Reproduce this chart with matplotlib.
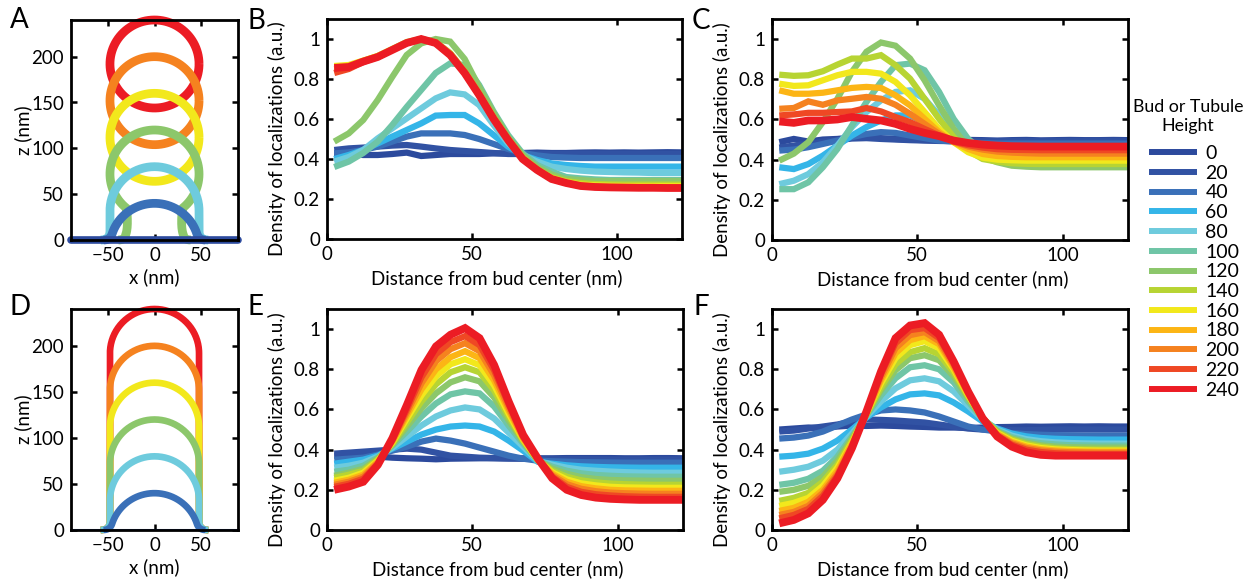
import numpy as np
import matplotlib
matplotlib.use("Agg")
import matplotlib.pyplot as plt
from matplotlib.lines import Line2D

plt.rcParams['font.family'] = ['Lato', 'DejaVu Sans']
plt.rcParams['font.size'] = 13.5
plt.rcParams['axes.unicode_minus'] = True

# ---------------- data ----------------
heights = [0, 20, 40, 60, 80, 100, 120, 140, 160, 180, 200, 220, 240]
colors = ['#2c4a9d', '#3152a3', '#3a70b8', '#34b5e8', '#6ecbdd', '#6fc5a6',
          '#8cc76b', '#b7d433', '#f2e81c', '#fcb515', '#f5821f', '#ef4824', '#ec1c24']
distance_nm = [2.5, 7.5, 12.5, 17.5, 22.5, 27.5, 32.5, 37.5, 42.5, 47.5, 52.5, 57.5,
               62.5, 67.5, 72.5, 77.5, 82.5, 87.5, 92.5, 97.5, 102.5, 107.5, 112.5,
               117.5, 122.5]

# Panel B: buds, localization density (one list per height)
B_density = [
    [.43, .425, .42, .42, .425, .432, .415, .42, .425, .425, .425, .428, .428, .43, .432, .43, .43, .432, .433, .432, .433, .432, .433, .434, .433],
    [.445, .453, .457, .462, .467, .47, .462, .453, .445, .44, .435, .43, .425, .425, .425, .425, .425, .425, .425, .425, .425, .425, .425, .425, .425],
    [.428, .433, .445, .462, .487, .512, .528, .528, .528, .52, .50, .475, .45, .43, .418, .41, .407, .405, .405, .405, .405, .405, .405, .405, .405],
    [.40, .42, .445, .478, .512, .545, .578, .617, .62, .62, .578, .52, .462, .42, .395, .378, .37, .365, .362, .362, .362, .362, .362, .362, .362],
    [.387, .41, .445, .503, .553, .603, .653, .703, .733, .723, .67, .57, .478, .42, .387, .362, .35, .342, .337, .335, .333, .332, .33, .33, .33],
    [.36, .387, .43, .487, .57, .66, .745, .83, .878, .87, .77, .637, .52, .428, .37, .337, .31, .303, .298, .295, .295, .295, .295, .295, .295],
    [.487, .528, .595, .695, .81, .92, .978, 1.0, .987, .90, .76, .63, .51, .42, .36, .323, .30, .295, .29, .29, .29, .29, .29, .29, .29],
    [.86, .865, .89, .915, .95, .985, 1.0, .985, .93, .84, .73, .61, .50, .41, .35, .31, .29, .28, .275, .273, .272, .272, .272, .272, .272],
    [.865, .87, .892, .915, .948, .982, 1.0, .982, .925, .835, .725, .605, .50, .405, .348, .305, .285, .272, .268, .266, .265, .265, .265, .265, .265],
    [.86, .865, .89, .912, .946, .98, 1.0, .98, .922, .832, .722, .602, .497, .402, .346, .302, .282, .268, .263, .261, .26, .26, .26, .26, .26],
    [.85, .86, .888, .91, .945, .98, 1.0, .98, .92, .83, .72, .60, .495, .40, .345, .30, .28, .266, .261, .259, .258, .257, .257, .257, .257],
    [.83, .85, .885, .91, .945, .98, 1.0, .98, .92, .83, .72, .60, .495, .40, .345, .30, .28, .265, .26, .258, .257, .256, .256, .256, .256],
    [.855, .86, .887, .91, .945, .98, 1.0, .98, .92, .83, .72, .60, .495, .40, .345, .30, .28, .265, .26, .258, .257, .256, .256, .255, .255],
]

# Panel C: buds (alternative model)
C_density = [
    [.487, .503, .49, .50, .503, .51, .517, .507, .503, .50, .497, .495, .497, .498, .497, .495, .497, .498, .496, .497, .498, .497, .497, .498, .497],
    [.46, .47, .48, .49, .497, .505, .507, .503, .50, .497, .495, .493, .492, .492, .492, .492, .492, .492, .492, .492, .492, .492, .492, .492, .492],
    [.445, .45, .462, .478, .495, .512, .528, .537, .533, .52, .507, .495, .49, .485, .482, .48, .48, .48, .48, .48, .48, .48, .48, .48, .48],
    [.362, .353, .378, .42, .47, .52, .562, .595, .62, .62, .587, .537, .495, .47, .46, .455, .453, .453, .453, .453, .453, .453, .453, .453, .453],
    [.278, .295, .328, .387, .47, .562, .637, .695, .737, .745, .703, .62, .528, .462, .42, .405, .40, .398, .397, .397, .397, .397, .397, .397, .397],
    [.253, .253, .287, .362, .453, .57, .687, .787, .87, .878, .845, .737, .603, .503, .445, .412, .39, .382, .38, .378, .378, .378, .378, .378, .378],
    [.395, .43, .487, .587, .703, .837, .937, .983, .967, .903, .795, .67, .553, .462, .412, .387, .37, .365, .362, .362, .362, .362, .362, .362, .362],
    [.823, .817, .82, .84, .873, .903, .903, .92, .87, .803, .703, .603, .512, .445, .403, .39, .382, .379, .378, .378, .378, .378, .378, .378, .378],
    [.778, .767, .77, .795, .82, .837, .837, .828, .787, .72, .637, .553, .487, .437, .41, .40, .397, .395, .395, .395, .395, .395, .395, .395, .395],
    [.745, .728, .728, .733, .745, .757, .762, .757, .72, .67, .603, .537, .487, .453, .428, .418, .414, .412, .412, .412, .412, .412, .412, .412, .412],
    [.653, .657, .69, .673, .695, .703, .712, .703, .673, .628, .578, .528, .49, .465, .45, .44, .435, .432, .43, .43, .43, .43, .43, .43, .43],
    [.62, .625, .633, .633, .637, .64, .657, .64, .612, .587, .553, .52, .49, .472, .46, .452, .449, .448, .447, .447, .447, .447, .447, .447, .447],
    [.59, .583, .595, .595, .60, .612, .603, .595, .578, .553, .533, .517, .495, .483, .475, .47, .467, .466, .465, .465, .465, .465, .465, .465, .465],
]

# Panel E: tubules
E_density = [
    [.37, .372, .37, .365, .36, .357, .355, .352, .355, .356, .357, .357, .356, .356, .357, .357, .358, .358, .358, .358, .357, .357, .358, .358, .357],
    [.38, .385, .39, .395, .40, .405, .40, .385, .37, .365, .36, .358, .356, .355, .353, .352, .352, .352, .351, .35, .35, .35, .35, .35, .35],
    [.35, .355, .36, .375, .395, .415, .44, .455, .445, .43, .41, .39, .37, .355, .345, .342, .34, .338, .337, .336, .335, .335, .335, .335, .335],
    [.33, .34, .35, .37, .405, .44, .475, .50, .515, .52, .515, .49, .445, .395, .34, .33, .322, .317, .314, .312, .311, .31, .31, .31, .31],
    [.31, .32, .335, .365, .41, .465, .52, .565, .595, .61, .60, .555, .485, .415, .343, .325, .31, .30, .295, .291, .288, .286, .285, .285, .285],
    [.29, .30, .32, .36, .42, .49, .565, .63, .675, .69, .68, .615, .52, .43, .346, .315, .295, .282, .274, .27, .267, .266, .265, .265, .265],
    [.27, .285, .305, .355, .425, .515, .605, .68, .735, .76, .74, .66, .545, .44, .348, .305, .28, .263, .254, .249, .247, .246, .245, .245, .245],
    [.26, .275, .295, .35, .43, .535, .64, .725, .785, .81, .785, .695, .565, .445, .349, .295, .265, .247, .237, .231, .228, .226, .225, .225, .225],
    [.245, .26, .285, .345, .435, .555, .67, .765, .825, .85, .82, .72, .58, .45, .35, .287, .252, .232, .222, .215, .212, .211, .21, .21, .21],
    [.235, .25, .275, .34, .44, .57, .70, .80, .86, .89, .855, .745, .595, .455, .352, .28, .24, .218, .207, .20, .197, .196, .195, .195, .195],
    [.225, .24, .265, .335, .445, .585, .73, .84, .90, .93, .89, .77, .61, .46, .354, .272, .228, .205, .193, .186, .183, .181, .18, .18, .18],
    [.215, .23, .255, .33, .45, .60, .76, .875, .935, .965, .92, .795, .625, .465, .355, .265, .215, .19, .178, .172, .168, .166, .165, .165, .165],
    [.20, .216, .24, .324, .457, .623, .797, .914, .972, 1.005, .955, .822, .64, .473, .357, .257, .20, .174, .161, .155, .152, .15, .15, .15, .15],
]

# Panel F: tubules (alternative model)
F_density = [
    [.50, .505, .51, .508, .515, .52, .518, .52, .518, .515, .513, .51, .51, .508, .51, .512, .513, .515, .514, .515, .516, .515, .516, .515, .515],
    [.49, .495, .505, .515, .525, .54, .55, .548, .545, .54, .535, .525, .515, .505, .50, .498, .497, .497, .498, .50, .50, .50, .50, .50, .50],
    [.455, .46, .47, .49, .52, .55, .575, .595, .60, .595, .585, .565, .54, .515, .50, .49, .482, .477, .474, .472, .471, .47, .47, .47, .47],
    [.365, .37, .38, .405, .445, .50, .56, .61, .65, .675, .68, .67, .635, .59, .54, .505, .48, .466, .458, .454, .452, .451, .45, .45, .45],
    [.29, .30, .315, .345, .40, .48, .565, .64, .705, .745, .755, .74, .69, .62, .55, .50, .47, .452, .442, .436, .433, .431, .43, .43, .43],
    [.225, .235, .255, .295, .365, .465, .57, .67, .755, .81, .82, .80, .735, .64, .553, .495, .462, .443, .432, .426, .422, .421, .42, .42, .42],
    [.19, .20, .22, .265, .345, .455, .575, .695, .795, .855, .87, .845, .765, .655, .555, .49, .455, .435, .422, .415, .412, .411, .41, .41, .41],
    [.145, .16, .185, .24, .325, .445, .575, .71, .825, .885, .905, .875, .785, .665, .555, .487, .45, .428, .415, .407, .403, .401, .40, .40, .40],
    [.12, .135, .16, .22, .31, .435, .58, .73, .855, .92, .94, .905, .80, .67, .555, .482, .444, .421, .408, .401, .398, .396, .395, .395, .395],
    [.095, .11, .14, .20, .295, .43, .58, .745, .88, .945, .965, .925, .81, .675, .555, .478, .438, .415, .402, .396, .393, .391, .39, .39, .39],
    [.075, .09, .12, .185, .28, .42, .585, .76, .905, .97, .985, .94, .82, .68, .556, .475, .432, .408, .396, .39, .387, .386, .385, .385, .385],
    [.058, .075, .105, .17, .27, .415, .59, .775, .93, .995, 1.005, .955, .83, .685, .556, .47, .425, .40, .388, .382, .379, .378, .378, .378, .378],
    [.033, .05, .083, .15, .257, .407, .59, .789, .955, 1.018, 1.03, .972, .839, .689, .556, .465, .415, .387, .374, .37, .37, .37, .37, .37, .37],
]

shape_heights = [240, 200, 160, 120, 80, 40]   # drawn in panels A and D
density_ticks = [0, 0.2, 0.4, 0.6, 0.8, 1]
density_ticklabels = ['0', '0.2', '0.4', '0.6', '0.8', '1']
dist_ticks = [0, 50, 100]
shape_xticks = [-50, 0, 50]
shape_zticks = [0, 50, 100, 150, 200]

# ---------------- geometry helpers ----------------
R = 48.0     # bud / tubule radius (nm)
FIL = 10.0   # fillet radius at the membrane


def quad_bezier(p0, p1, p2, n=20):
    t = np.linspace(0, 1, n)[:, None]
    p0, p1, p2 = map(np.asarray, (p0, p1, p2))
    return (1 - t) ** 2 * p0 + 2 * (1 - t) * t * p1 + t ** 2 * p2


def mirror_join(right_half):
    left = right_half[::-1].copy()
    left[:, 0] *= -1
    return np.vstack([left, right_half[1:]])


def cap_profile(H):
    c = H - R
    zmin = 6.0
    ang_end = np.arcsin((zmin - c) / R)
    th = np.linspace(np.pi / 2, ang_end, 80)
    arc = np.column_stack([R * np.cos(th), c + R * np.sin(th)])
    xe = arc[-1, 0]
    foot = quad_bezier((xe, zmin), (xe + 2.5, 0), (xe + 9, 0))
    return mirror_join(np.vstack([arc, foot[1:]]))


def tubule_profile(H):
    c = H - R
    if c <= 0:
        return cap_profile(H)
    th = np.linspace(np.pi / 2, 0, 60)
    arc = np.column_stack([R * np.cos(th), c + R * np.sin(th)])
    side = np.array([[R, c], [R, FIL]])
    foot = quad_bezier((R, FIL), (R, 0), (R + FIL, 0))
    return mirror_join(np.vstack([arc, side[1:], foot[1:]]))


def bud_profile(H):
    c = H - R
    if c <= 0:
        return cap_profile(H)
    if c - R > 30:
        th = np.linspace(0, 2 * np.pi, 200)
        return np.column_stack([R * np.cos(th), c + R * np.sin(th)])
    if c - R > 0:
        rn = 30.0
        ze = c - np.sqrt(R ** 2 - rn ** 2)
        th_end = -np.pi / 2 + np.arcsin(rn / R)
        th = np.linspace(np.pi / 2, th_end, 120)
        arc = np.column_stack([R * np.cos(th), c + R * np.sin(th)])
        side = quad_bezier((rn, ze), (rn - 2, ze * 0.4), (rn + 1, FIL * 0.6))
        foot = quad_bezier((rn + 1, FIL * 0.6), (rn + 2, 0), (rn + 9, 0))
        return mirror_join(np.vstack([arc, side[1:], foot[1:]]))
    return tubule_profile(H)


# ---------------- figure ----------------
W, Hpx = 1255, 580
fig = plt.figure(figsize=(W / 100, Hpx / 100), dpi=100)


def px_axes(left, top, right, bottom):
    return fig.add_axes([left / W, 1 - bottom / Hpx, (right - left) / W, (bottom - top) / Hpx])


axA = px_axes(71, 20, 238, 240)
axB = px_axes(327, 19, 682, 239)
axC = px_axes(772, 19, 1128, 240)
axD = px_axes(71, 309, 238, 530)
axE = px_axes(327, 309, 683, 530)
axF = px_axes(772, 309, 1128, 530)

color_of = dict(zip(heights, colors))


def style_axes(ax):
    for s in ax.spines.values():
        s.set_linewidth(2.0)
        s.set_zorder(5)
    ax.tick_params(direction='in', top=True, right=True, length=4, width=1.8,
                   labelsize=13.5, pad=5)


# shapes panels
for ax, prof, baseline_lw, shape_lw in [(axA, bud_profile, 5.5, 6.3), (axD, tubule_profile, 2.2, 4.8)]:
    for h in shape_heights:
        p = prof(h)
        ax.plot(p[:, 0], p[:, 1], color=color_of[h], lw=shape_lw,
                solid_capstyle='butt', solid_joinstyle='round', clip_on=False, zorder=3)
    ax.plot([-90, 90], [0, 0], color=color_of[0], lw=baseline_lw,
            solid_capstyle='round', clip_on=(ax is axD), zorder=4)
    ax.set_xlim(-90, 90)
    ax.set_ylim(0, 240)
    ax.set_xticks(shape_xticks)
    ax.set_yticks(shape_zticks)
    ax.set_xlabel('x (nm)')
    ax.set_ylabel('z (nm)')
    ax.xaxis.set_label_coords(0.5, -37 / 221)
    ax.xaxis.label.set_va('center')
    ax.yaxis.set_label_coords(-0.285, 0.5)
    ax.yaxis.label.set_va('center')
    style_axes(ax)

# density panels
for ax, data in [(axB, B_density), (axC, C_density), (axE, E_density), (axF, F_density)]:
    for h, col, vals in zip(heights, colors, data):
        ax.plot(distance_nm, vals, color=col, lw=5.6 if h == 240 else 4.5,
                solid_joinstyle='miter', solid_capstyle='butt', label=str(h))
    ax.set_xlim(0, 122.5)
    ax.set_ylim(0, 1.1)
    ax.set_xticks(dist_ticks)
    ax.set_yticks(density_ticks)
    ax.set_yticklabels(density_ticklabels)
    ax.set_xlabel('Distance from bud center (nm)')
    ax.set_ylabel('Density of localizations (a.u.)')
    ax.xaxis.set_label_coords(0.479, -39 / 220)
    ax.xaxis.label.set_va('center')
    ax.yaxis.set_label_coords(-0.14, 0.455)
    ax.yaxis.label.set_va('center')
    style_axes(ax)

# legend (title drawn as its own text for exact spacing)
fig.text(1188 / W, 1 - 116.5 / Hpx, 'Bud or Tubule\nHeight', fontsize=12.8,
         ha='center', va='center', multialignment='center', linespacing=1.3)
handles = [Line2D([], [], color=c, lw=4.3, solid_capstyle='butt') for c in colors]
leg = fig.legend(handles, [str(h) for h in heights], loc='upper left',
                 bbox_to_anchor=(1149 / W, 1 - 145 / Hpx), frameon=False,
                 fontsize=14, handlelength=2.45, handletextpad=0.45,
                 labelspacing=0.14, borderpad=0.0, borderaxespad=0.0)

# panel letters
for lab, x, y in [('A', 10, 20), ('B', 248, 21), ('C', 692, 21),
                  ('D', 10, 307), ('E', 248, 307), ('F', 693, 307)]:
    fig.text(x / W, 1 - y / Hpx, lab, fontsize=20, va='center', ha='left')

fig.savefig('out.png', dpi=100)
